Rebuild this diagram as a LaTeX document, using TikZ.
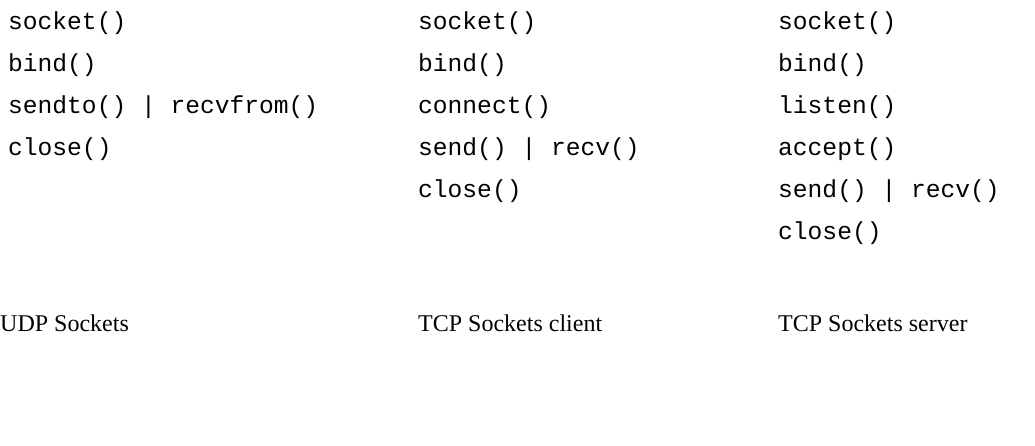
\documentclass[tikz,border=0pt]{standalone}
\usepackage{fontspec}
\setmainfont{Liberation Serif}
\setmonofont{Liberation Mono}
\begin{document}
\begin{tikzpicture}[x=1pt,y=-1pt,
  call/.style={anchor=base west,inner sep=0pt,font=\fontsize{24.6}{28}\selectfont\ttfamily},
  title/.style={anchor=base west,inner sep=0pt,font=\fontsize{24}{28}\selectfont\rmfamily}]
\useasboundingbox[fill=white] (0,0) rectangle (1035,445);
% UDP column
\node[call] (u1) at (8,29) {socket()};
\node[call] (u2) at (8,71) {bind()};
\node[call] (u3) at (8,113) {sendto() | recvfrom()};
\node[call] (u4) at (8,155) {close()};
% TCP client column
\node[call] (c1) at (418,29) {socket()};
\node[call] (c2) at (418,71) {bind()};
\node[call] (c3) at (418,113) {connect()};
\node[call] (c4) at (418,155) {send() | recv()};
\node[call] (c5) at (418,197) {close()};
% TCP server column
\node[call] (s1) at (778,29) {socket()};
\node[call] (s2) at (778,71) {bind()};
\node[call] (s3) at (778,113) {listen()};
\node[call] (s4) at (778,155) {accept()};
\node[call] (s5) at (778,197) {send() | recv()};
\node[call] (s6) at (778,239) {close()};
% titles
\node[title] (tu) at (0,331) {UDP Sockets};
\node[title] (tc) at (418,331) {TCP Sockets client};
\node[title] (ts) at (778,331) {TCP Sockets server};
\end{tikzpicture}
\end{document}
